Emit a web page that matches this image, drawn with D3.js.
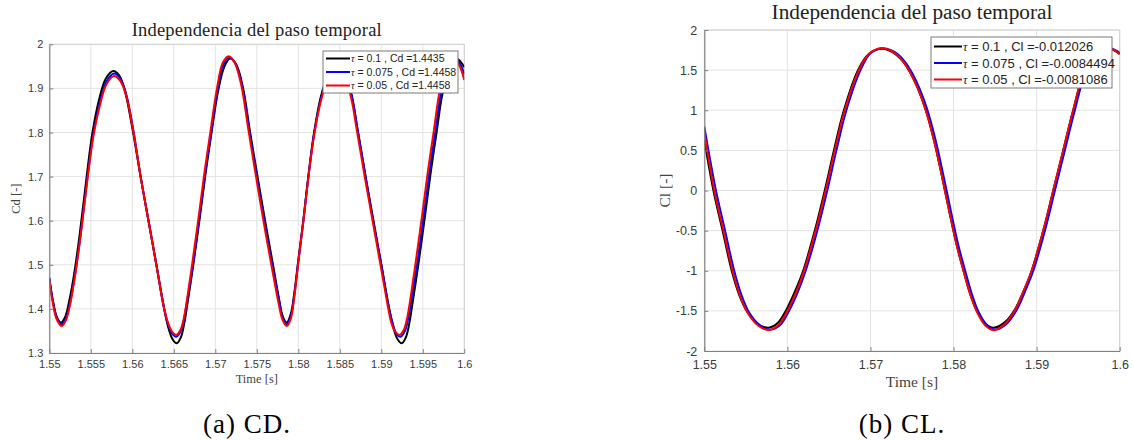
<!DOCTYPE html>
<html><head><meta charset="utf-8">
<script src="https://cdn.jsdelivr.net/npm/d3@7"></script>
<style>body{margin:0;background:#fff;} svg{display:block}</style>
</head><body>
<svg id="c" width="1133" height="440"></svg>
<script>
// ---------- DATA ----------
const seriesNames = ["\u03C4 = 0.1", "\u03C4 = 0.075", "\u03C4 = 0.05"];
const seriesColors = ["#000000", "#0000ff", "#ff0000"];
const cdMeans = ["1.4435", "1.4458", "1.4458"];
const clMeans = ["-0.012026", "-0.0084494", "-0.0081086"];

const cdXTicks = [1.55, 1.555, 1.56, 1.565, 1.57, 1.575, 1.58, 1.585, 1.59, 1.595, 1.6];
const cdXTickLabels = ["1.55", "1.555", "1.56", "1.565", "1.57", "1.575", "1.58", "1.585", "1.59", "1.595", "1.6"];
const cdYTicks = [1.3, 1.4, 1.5, 1.6, 1.7, 1.8, 1.9, 2];
const cdYTickLabels = ["1.3", "1.4", "1.5", "1.6", "1.7", "1.8", "1.9", "2"];
const clXTicks = [1.55, 1.56, 1.57, 1.58, 1.59, 1.6];
const clXTickLabels = ["1.55", "1.56", "1.57", "1.58", "1.59", "1.6"];
const clYTicks = [-2, -1.5, -1, -0.5, 0, 0.5, 1, 1.5, 2];
const clYTickLabels = ["-2", "-1.5", "-1", "-0.5", "0", "0.5", "1", "1.5", "2"];

// Cd [time, value], tau = 0.1 (black)
const cdTau01 = [[1.5500,1.469],[1.5504,1.422],[1.5509,1.382],[1.5514,1.369],[1.5519,1.381],[1.5524,1.418],[1.5530,1.480],[1.5537,1.575],[1.5545,1.700],[1.5552,1.800],[1.5560,1.875],[1.5568,1.922],[1.5577,1.9395],
  [1.5584,1.930],[1.5591,1.895],[1.5600,1.810],[1.5610,1.700],[1.56195,1.600],[1.5629,1.500],[1.56385,1.400],[1.56435,1.357],[1.56485,1.331],[1.56535,1.322],
  [1.56585,1.3355],[1.56625,1.366],[1.56655,1.400],[1.56735,1.500],[1.56815,1.610],[1.56885,1.710],[1.56955,1.800],[1.57035,1.895],[1.5711,1.950],[1.57177,1.968],
  [1.5725,1.955],[1.5733,1.905],[1.5742,1.800],[1.5750,1.710],[1.5760,1.600],[1.5770,1.495],[1.5777,1.420],[1.5781,1.385],[1.5786,1.369],
  [1.5791,1.389],[1.5795,1.434],[1.5800,1.510],[1.5806,1.600],[1.5812,1.700],[1.5819,1.800],[1.5827,1.880],[1.5835,1.925],[1.5841,1.937],[1.5848,1.941],
  [1.5855,1.932],[1.5863,1.895],[1.5872,1.800],[1.58811,1.700],[1.58906,1.600],[1.59001,1.500],[1.59096,1.400],[1.59146,1.357],[1.59196,1.331],[1.59246,1.322],
  [1.59296,1.3355],[1.59336,1.366],[1.59366,1.400],[1.59446,1.500],[1.59526,1.610],[1.59596,1.710],[1.59666,1.800],[1.59746,1.895],[1.5985,1.952],[1.5992,1.966],[1.6000,1.948]];
// Cd, tau = 0.075 (blue)
const cdTau0075 = [[1.5500,1.471],[1.5504,1.421],[1.5509,1.380],[1.5515,1.365],[1.5520,1.378],[1.5525,1.413],[1.5531,1.477],[1.5538,1.572],[1.5546,1.698],[1.5553,1.795],[1.5561,1.868],[1.5569,1.916],[1.5578,1.934],
  [1.5585,1.924],[1.5592,1.892],[1.5601,1.808],[1.5610,1.700],[1.56195,1.600],[1.5629,1.500],[1.5638,1.403],[1.5643,1.365],[1.5648,1.344],[1.5653,1.337],
  [1.5658,1.348],[1.5662,1.374],[1.5665,1.406],[1.5673,1.500],[1.5681,1.610],[1.5688,1.710],[1.5695,1.800],[1.5703,1.900],[1.5710,1.955],[1.5717,1.970],
  [1.5724,1.957],[1.5732,1.908],[1.5741,1.803],[1.5749,1.711],[1.5759,1.600],[1.5769,1.495],[1.5777,1.418],[1.5781,1.380],[1.5786,1.365],
  [1.5791,1.383],[1.5795,1.428],[1.5800,1.507],[1.5806,1.598],[1.5812,1.697],[1.5819,1.796],[1.5827,1.875],[1.5835,1.920],[1.5841,1.931],[1.58475,1.935],
  [1.5855,1.926],[1.5863,1.892],[1.5872,1.800],[1.5881,1.700],[1.5890,1.600],[1.5900,1.500],[1.5909,1.403],[1.5914,1.365],[1.5918,1.344],[1.5923,1.337],
  [1.5928,1.348],[1.5932,1.374],[1.5935,1.406],[1.5943,1.500],[1.5951,1.610],[1.5958,1.710],[1.5965,1.800],[1.5973,1.900],[1.5982,1.954],[1.5989,1.966],[1.5995,1.955],[1.6000,1.932]];
// Cd, tau = 0.05 (red)
const cdTau005 = [[1.5500,1.465],[1.5504,1.416],[1.5509,1.376],[1.5515,1.361],[1.5520,1.374],[1.5525,1.410],[1.5531,1.475],[1.5538,1.570],[1.5546,1.695],[1.5553,1.790],[1.5561,1.862],[1.5569,1.910],[1.5578,1.928],
  [1.5585,1.918],[1.5592,1.888],[1.5601,1.805],[1.5610,1.700],[1.56195,1.600],[1.5629,1.500],[1.5638,1.405],[1.5643,1.369],[1.5648,1.348],[1.5653,1.341],
  [1.5658,1.352],[1.5662,1.378],[1.5665,1.410],[1.5672,1.500],[1.5680,1.610],[1.5687,1.710],[1.5694,1.800],[1.5702,1.900],[1.5709,1.958],[1.5716,1.973],
  [1.5723,1.960],[1.5731,1.910],[1.5740,1.805],[1.5748,1.712],[1.5758,1.600],[1.5768,1.495],[1.5776,1.415],[1.5781,1.375],[1.5786,1.361],
  [1.5791,1.378],[1.5795,1.424],[1.5800,1.505],[1.5806,1.597],[1.5812,1.695],[1.5819,1.793],[1.5827,1.870],[1.5835,1.915],[1.5841,1.926],[1.5847,1.930],
  [1.5854,1.921],[1.5862,1.890],[1.5871,1.800],[1.5880,1.700],[1.58895,1.600],[1.5899,1.500],[1.5908,1.405],[1.5912,1.369],[1.5917,1.348],[1.5922,1.341],
  [1.5927,1.352],[1.5931,1.378],[1.5934,1.410],[1.5941,1.500],[1.5949,1.610],[1.5956,1.710],[1.5963,1.800],[1.5971,1.900],[1.5980,1.955],[1.5987,1.967],[1.5994,1.952],[1.6000,1.919]];

// Cl [time, value], tau = 0.1 (black)
const clTau01 = [[1.5500,0.629],[1.5511,0.000],[1.5522,-0.500],[1.5533,-1.000],[1.5542,-1.300],[1.5551,-1.500],[1.5564,-1.660],[1.5577,-1.710],
  [1.5588,-1.655],[1.5598,-1.500],[1.5609,-1.260],[1.5619,-1.000],[1.5633,-0.500],[1.5645,0.000],[1.5656,0.500],[1.5668,1.000],[1.5685,1.500],[1.5698,1.700],[1.5713,1.765],
  [1.5722,1.747],[1.5731,1.693],[1.5740,1.596],[1.5748,1.466],[1.5757,1.272],[1.5766,1.020],[1.5776,0.645],[1.5785,0.229],[1.5795,-0.268],[1.5804,-0.690],[1.5812,-1.000],[1.5820,-1.290],[1.5828,-1.500],[1.5838,-1.6575],[1.5848,-1.710],
  [1.5862,-1.640],[1.5874,-1.480],[1.5884,-1.260],[1.5894,-1.000],[1.5908,-0.500],[1.5920,0.000],[1.5932,0.500],[1.5944,1.000],[1.5958,1.500],[1.5972,1.700],[1.5987,1.765],[1.6000,1.700]];
// Cl, tau = 0.075 (blue)
const clTau0075 = [[1.5500,0.795],[1.5514,0.000],[1.5525,-0.500],[1.5536,-1.000],[1.5545,-1.310],[1.5554,-1.520],[1.5567,-1.680],[1.5579,-1.735],
  [1.5591,-1.680],[1.5601,-1.520],[1.5612,-1.280],[1.5622,-1.000],[1.5636,-0.500],[1.5648,0.000],[1.5659,0.500],[1.5671,1.000],[1.5688,1.500],[1.5700,1.710],[1.5714,1.772],
  [1.5724,1.752],[1.5733,1.697],[1.5742,1.598],[1.5750,1.466],[1.5759,1.272],[1.5768,1.020],[1.5778,0.645],[1.5787,0.229],[1.5797,-0.268],[1.5806,-0.690],[1.5814,-1.000],[1.5822,-1.290],[1.5830,-1.510],[1.5840,-1.675],[1.5850,-1.735],
  [1.5864,-1.660],[1.5876,-1.490],[1.5886,-1.260],[1.5896,-1.000],[1.5910,-0.500],[1.5922,0.000],[1.5934,0.500],[1.5946,1.000],[1.5960,1.500],[1.5974,1.705],[1.5989,1.770],[1.6000,1.715]];
// Cl, tau = 0.05 (red)
const clTau005 = [[1.5500,0.725],[1.5512,0.000],[1.5523,-0.500],[1.5534,-1.000],[1.5543,-1.310],[1.5552,-1.520],[1.5565,-1.685],[1.5578,-1.738],
  [1.5589,-1.680],[1.5599,-1.520],[1.5610,-1.280],[1.5620,-1.000],[1.5634,-0.500],[1.5646,0.000],[1.5657,0.500],[1.5669,1.000],[1.5686,1.500],[1.5699,1.710],[1.5713,1.772],
  [1.5722,1.754],[1.5731,1.699],[1.5740,1.600],[1.5748,1.468],[1.5757,1.272],[1.5766,1.020],[1.5776,0.645],[1.5785,0.229],[1.5795,-0.268],[1.5804,-0.690],[1.5812,-1.000],[1.5820,-1.290],[1.5828,-1.510],[1.5838,-1.680],[1.5848,-1.740],
  [1.5862,-1.660],[1.5874,-1.490],[1.5884,-1.260],[1.5894,-1.000],[1.5908,-0.500],[1.5920,0.000],[1.5932,0.500],[1.5944,1.000],[1.5958,1.500],[1.5972,1.705],[1.5987,1.770],[1.6000,1.705]];

// ---------- DRAW ----------
const svg = d3.select("#c");
const serif = "'Liberation Serif', 'Times New Roman', serif";
const sans = "'Liberation Sans', Arial, sans-serif";

function panel(o) {
  const g = svg.append("g");
  const x = d3.scaleLinear().domain(o.xDomain).range([o.left, o.right]);
  const y = d3.scaleLinear().domain(o.yDomain).range([o.bottom, o.top]);
  const gridColor = "#e3e3e3";
  g.append("g").selectAll("line").data(o.xTicks).join("line")
    .attr("x1", d => x(d)).attr("x2", d => x(d)).attr("y1", o.top).attr("y2", o.bottom)
    .attr("stroke", gridColor).attr("stroke-width", 1);
  g.append("g").selectAll("line").data(o.yTicks).join("line")
    .attr("y1", d => y(d)).attr("y2", d => y(d)).attr("x1", o.left).attr("x2", o.right)
    .attr("stroke", gridColor).attr("stroke-width", 1);
  g.append("path").attr("d", `M${o.left},${o.top}H${o.right}V${o.bottom}`)
    .attr("fill", "none").attr("stroke", "#d0d0d0").attr("stroke-width", 1);
  const cid = "clip" + o.id;
  svg.append("clipPath").attr("id", cid).append("rect")
    .attr("x", o.left).attr("y", o.top).attr("width", o.right - o.left).attr("height", o.bottom - o.top);
  const line = d3.line().x(d => x(d[0])).y(d => y(d[1])).curve(d3.curveCatmullRom.alpha(0.5));
  const lg = g.append("g").attr("clip-path", `url(#${cid})`);
  o.series.forEach((s, i) => {
    lg.append("path").datum(s).attr("d", line).attr("fill", "none")
      .attr("stroke", seriesColors[i]).attr("stroke-width", 2).attr("stroke-linejoin", "round");
  });
  const axC = "#828282", txC = "#3a3a3a";
  const ax = g.append("g").attr("transform", `translate(0,${o.bottom})`)
    .call(d3.axisBottom(x).tickValues(o.xTicks).tickFormat((d, i) => o.xLabels[i]).tickSizeInner(-4).tickSizeOuter(0).tickPadding(o.xPad));
  const ay = g.append("g").attr("transform", `translate(${o.left},0)`)
    .call(d3.axisLeft(y).tickValues(o.yTicks).tickFormat((d, i) => o.yLabels[i]).tickSizeInner(-4).tickSizeOuter(0).tickPadding(o.yPad));
  [ax, ay].forEach(a => {
    a.select(".domain").attr("stroke", axC).attr("stroke-width", 1.2);
    a.selectAll(".tick line").attr("stroke", axC);
    a.selectAll("text").attr("fill", txC).attr("font-family", sans).attr("font-size", o.tickFs);
  });
  const cx = (o.left + o.right) / 2;
  g.append("text").attr("x", cx).attr("y", o.titleY).attr("text-anchor", "middle")
    .attr("font-family", serif).attr("font-size", o.titleFs).attr("letter-spacing", o.titleLs).attr("fill", "#222").text("Independencia del paso temporal");
  g.append("text").attr("x", cx).attr("y", o.xLabY).attr("text-anchor", "middle")
    .attr("font-family", serif).attr("font-size", o.labFs).attr("fill", "#444").text("Time [s]");
  g.append("text").attr("transform", `translate(${o.yLabX},${(o.top + o.bottom) / 2}) rotate(-90)`)
    .attr("text-anchor", "middle").attr("font-family", serif).attr("font-size", o.labFs).attr("fill", "#444").text(o.yLab);
  g.append("text").attr("x", o.capX).attr("y", o.capY).attr("text-anchor", "middle")
    .attr("font-family", serif).attr("font-size", o.capFs).attr("letter-spacing", 1).attr("fill", "#000").text(o.caption);
  const L = o.legend;
  g.append("rect").attr("x", L.x).attr("y", L.y).attr("width", L.w).attr("height", L.h)
    .attr("fill", "#fff").attr("stroke", "#7a7a7a").attr("stroke-width", 1);
  seriesNames.forEach((n, i) => {
    const yy = L.y + L.pad + i * L.step;
    g.append("line").attr("x1", L.x + 3).attr("x2", L.x + L.lineW).attr("y1", yy).attr("y2", yy)
      .attr("stroke", seriesColors[i]).attr("stroke-width", 2);
    const t = g.append("text").attr("x", L.x + L.lineW + 1).attr("y", yy).attr("dy", "0.35em")
      .attr("font-family", sans).attr("font-size", L.fs).attr("fill", "#222");
    t.append("tspan").attr("font-family", serif).attr("font-style", "italic").attr("font-size", L.fs * 0.95).text("\u03C4");
    t.append("tspan").text(n.slice(1) + " , " + o.varName + " =" + o.means[i]);
  });
}

panel({
  id: "a", left: 49.3, right: 464.3, top: 44.3, bottom: 353,
  xDomain: [1.55, 1.6], yDomain: [1.3, 2],
  xTicks: cdXTicks, xLabels: cdXTickLabels, yTicks: cdYTicks, yLabels: cdYTickLabels,
  xPad: 7, yPad: 6, tickFs: 11,
  series: [cdTau01, cdTau0075, cdTau005],
  titleY: 36, titleFs: 18.5, titleLs: 0.2, xLabY: 383, labFs: 12.5, yLabX: 20, yLab: "Cd [-]",
  capX: 247, capY: 433, capFs: 27, caption: "(a) CD.",
  varName: "Cd", means: cdMeans,
  legend: {x: 323, y: 51, w: 135, h: 42, pad: 7.5, step: 13.5, lineW: 27, fs: 10.5}
});
panel({
  id: "b", left: 704.3, right: 1119.7, top: 30, bottom: 351,
  xDomain: [1.55, 1.6], yDomain: [-2, 2],
  xTicks: clXTicks, xLabels: clXTickLabels, yTicks: clYTicks, yLabels: clYTickLabels,
  xPad: 9, yPad: 7, tickFs: 12.5,
  series: [clTau01, clTau0075, clTau005],
  titleY: 18.5, titleFs: 21.3, titleLs: 0, xLabY: 387, labFs: 15.5, yLabX: 670, yLab: "Cl [-]",
  capX: 902, capY: 433, capFs: 27, caption: "(b) CL.",
  varName: "Cl", means: clMeans,
  legend: {x: 931, y: 37, w: 181, h: 51, pad: 9.5, step: 16.5, lineW: 31, fs: 13}
});
</script>
</body></html>
